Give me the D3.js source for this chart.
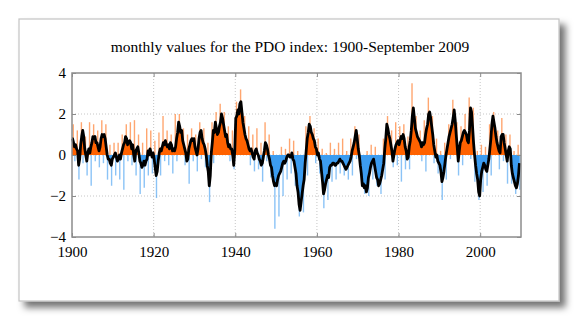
<!DOCTYPE html>
<html>
<head>
<meta charset="utf-8">
<title>PDO index</title>
<script src="https://d3js.org/d3.v7.min.js"></script>
<style>
  body { margin: 0; background: #fff; }
  text { font-family: "Liberation Serif", "DejaVu Serif", serif; fill: #000; }
</style>
</head>
<body>
<svg id="chart" width="580" height="321"></svg>
<script>
// smoothed PDO, one point per quarter, Jan 1900 - Sep 2009
var startYear = 1900;
var smooth = [
  0.8, 0.6, 0.4, 0.5,   0.3, 0.2, -0.5, -0.2,   0.5, 0.9, 1.2, 0.9,   0.3, 0.0, -0.3, 0.1,
  0.3, 0.1, 0.4, 0.6,   0.9, 0.8, 0.9, 0.6,   0.6, 0.4, 0.2, 0.4,   0.8, 1.0, 0.9, 1.0,
  0.8, 0.4, 0.0, -0.2,   -0.2, -0.4, -0.5, -0.2,   -0.1, 0.0, 0.1, -0.1,   -0.3, -0.2, 0.0, -0.2,
  0.1, 0.3, 0.5, 0.6,   0.9, 0.8, 0.5, 0.6,   0.7, 0.6, 0.3, 0.5,   0.0, -0.3, 0.2, 0.3,
  0.4, 0.1, -0.3, -0.4,   -0.6, -0.5, -0.3, -0.5,   -0.3, -0.2, 0.2, 0.0,   0.3, 0.1, -0.1, 0.1,
  -0.2, -0.6, -1.0, -0.8,   -0.3, 0.1, 0.3, 0.2,   0.4, 0.6, 0.5, 0.7,   0.5, 0.4, 0.5, 0.3,
  0.6, 0.5, 0.2, 0.3,   0.2, 0.4, 0.8, 1.1,   1.6, 1.4, 1.1, 1.2,   0.7, 0.5, 0.3, 0.1,
  -0.3, -0.2, 0.3, 0.5,   0.7, 0.8, 0.7, 0.8,   0.4, 0.2, 0.0, 0.3,   0.8, 1.1, 1.2, 0.8,
  0.6, 0.5, 0.3, 0.0,   -0.5, -0.8, -1.5, -1.0,   0.1, 0.6, 1.2, 1.1,   1.6, 1.3, 1.0, 1.1,
  1.4, 1.6, 2.0, 1.8,   1.5, 1.2, 0.9, 1.0,   0.6, 0.4, 0.5, 0.3,   0.3, 0.0, -0.5, 0.2,
  1.8, 1.9, 2.2, 2.0,   2.5, 2.6, 2.1, 1.6,   1.3, 1.0, 0.8, 0.7,   0.5, 0.3, 0.2, 0.3,
  0.1, -0.1, -0.2, 0.2,   0.3, 0.1, 0.0, -0.2,   -0.3, -0.5, -0.4, -0.1,   0.2, 0.6, 0.5, 0.3,
  0.0, -0.2, -0.5, -0.6,   -1.0, -1.3, -1.5, -1.4,   -1.5, -1.2, -1.0, -0.9,   -0.8, -0.6, -0.4, -0.3,
  -0.4, -0.3, -0.1, 0.0,   0.0, -0.1, -0.1, 0.1,   -0.2, -0.3, -0.6, -0.9,   -1.5, -1.8, -2.4, -2.7,
  -2.3, -1.9, -1.5, -1.2,   -0.4, 0.2, 0.8, 1.1,   1.5, 1.4, 1.1, 1.0,   0.8, 0.7, 0.4, 0.3,
  0.0, 0.1, -0.2, -0.3,   -0.8, -1.3, -1.9, -1.7,   -1.4, -1.2, -1.0, -1.1,   -0.6, -0.5, -0.5, -0.4,
  -0.4, -0.5, -0.5, -0.4,   -0.4, -0.3, -0.2, -0.3,   -0.3, -0.4, -0.5, -0.6,   -0.7, -0.6, -0.5, -0.4,
  -0.3, -0.1, 0.2, 0.4,   0.6, 0.9, 1.2, 0.8,   0.3, 0.0, -0.5, -0.9,   -1.5, -1.4, -1.6, -1.5,
  -1.8, -1.6, -1.1, -0.9,   -0.6, -0.4, -0.3, -0.2,   -0.5, -0.8, -1.1, -1.2,   -1.5, -1.4, -1.2, -1.0,
  -0.7, -0.4, 0.3, 0.8,   1.5, 1.3, 1.0, 0.8,   0.5, 0.2, -0.3, 0.0,   0.3, 0.5, 0.6, 0.7,
  0.5, 0.7, 0.9, 0.8,   1.0, 0.8, 0.4, 0.2,   -0.2, -0.1, 0.4, 0.7,   1.2, 1.9, 2.3, 1.8,
  1.3, 1.1, 0.9, 0.8,   0.7, 0.6, 0.4, 0.6,   0.5, 0.6, 1.0, 1.3,   1.5, 2.0, 2.1, 1.8,
  1.4, 1.0, 0.5, 0.2,   -0.1, 0.0, -0.3, -0.4,   -0.5, -0.8, -1.3, -1.1,   -0.8, -0.4, 0.0, 0.3,
  0.6, 0.9, 1.1, 1.3,   1.5, 1.8, 2.2, 1.7,   1.0, 0.4, -0.3, 0.2,   0.6, 0.7, 0.9, 1.1,
  1.2, 1.1, 1.0, 0.7,   0.6, 1.2, 2.3, 2.1,   1.4, 0.6, 0.0, -0.5,   -0.9, -1.2, -1.8, -2.0,
  -1.2, -0.8, -0.6, -0.4,   -0.5, -0.7, -0.8, -0.5,   -0.2, 0.3, 0.8, 1.5,   1.9, 1.6, 1.3, 0.9,
  0.6, 0.4, 0.2, 0.1,   0.9, 1.0, 1.0, 0.6,   0.3, 0.0, -0.3, 0.2,   0.4, 0.3, -0.5, -0.9,
  -1.1, -1.3, -1.5, -1.6,   -1.4, -1.0, -0.4
];
// highest and lowest monthly value of each year, 1900-2009
var monthMax = [
  1.5, 1.2, 1.6, 0.9, 1.6, 1.5, 1.2, 1.7, 1.5, 0.5,
  0.6, 0.6, 1.0, 1.5, 1.6, 1.7, 1.0, 0.6, 1.3, 1.2,
  0.7, 1.1, 1.9, 1.2, 1.0, 2.0, 2.0, 1.3, 1.0, 1.3,
  1.0, 1.6, 1.3, 0.6, 1.6, 2.1, 2.5, 2.1, 1.4, 1.2,
  2.6, 3.2, 1.9, 1.4, 1.0, 1.3, 0.6, 1.6, 1.0, 0.2,
  0.0, 0.4, 0.3, 0.8, 0.7, 0.2, 0.0, 1.4, 1.9, 1.3,
  0.8, 0.3, 0.1, 0.6, 0.3, 0.6, 0.8, 0.2, 0.8, 1.4,
  1.0, 0.0, 0.2, 0.5, 0.4, 0.0, 0.8, 1.9, 1.2, 1.6,
  1.4, 1.5, 0.9, 3.5, 1.9, 1.2, 1.7, 2.8, 1.9, 0.8,
  0.2, 0.6, 1.5, 2.7, 1.6, 1.4, 2.0, 2.8, 2.3, 0.2,
  0.5, 0.4, 1.5, 2.1, 1.2, 1.8, 1.0, 1.0, 0.2, 0.5
];
var monthMin = [
  -0.3, -1.2, -0.4, -1.0, -1.5, -0.3, -0.6, -0.4, -1.2, -1.5,
  -1.0, -1.2, -1.7, -0.3, -0.5, -1.0, -1.9, -1.6, -1.0, -0.9,
  -2.1, -1.0, -0.3, -0.5, -0.9, -0.3, 0.0, -0.5, -1.4, -0.3,
  -0.8, -0.2, -0.6, -2.3, -0.4, 0.0, 0.2, 0.0, -0.3, -0.7,
  0.0, 0.5, 0.0, -0.5, -0.8, -0.7, -1.3, -0.3, -1.1, -3.6,
  -3.0, -2.0, -1.2, -0.9, -1.5, -3.0, -2.8, -1.0, 0.2, -0.4,
  -0.9, -2.6, -2.2, -1.3, -1.2, -0.9, -1.0, -1.2, -1.0, -0.2,
  -1.0, -1.9, -2.0, -1.2, -1.5, -1.9, -1.2, 0.0, -0.6, -0.5,
  -1.3, -0.7, -0.7, 0.0, 0.2, -0.3, -0.8, 0.5, -0.4, -0.9,
  -2.2, -1.2, -0.2, 0.3, -1.0, -0.5, 0.2, -0.2, -1.3, -2.2,
  -1.8, -1.5, -1.0, 0.3, -0.7, -0.3, -1.4, -1.4, -1.9, -1.7
];
var yTicks = [-4, -2, 0, 2, 4];
var xTicks = [1900, 1920, 1940, 1960, 1980, 2000];
var title = "monthly values for the PDO index: 1900-September 2009";

var svg = d3.select("#chart");
var plot = {left: 72, right: 521, top: 73, bottom: 237};

// frame with drop shadow
var defs = svg.append("defs");
var f = defs.append("filter").attr("id", "shadow")
  .attr("x", "-5%").attr("y", "-5%").attr("width", "115%").attr("height", "120%");
f.append("feDropShadow").attr("dx", 6).attr("dy", 6)
  .attr("stdDeviation", 3.5).attr("flood-color", "#000").attr("flood-opacity", 0.55);

svg.append("rect")
  .attr("x", 19).attr("y", 19).attr("width", 540).attr("height", 282)
  .attr("fill", "#fff").attr("stroke", "#c4c4c4").attr("stroke-width", 1.2)
  .attr("filter", "url(#shadow)");

var x = d3.scaleLinear().domain([1900, 2010]).range([plot.left, plot.right]);
var y = d3.scaleLinear().domain([-4, 4]).range([plot.bottom, plot.top]);

// grid
var grid = svg.append("g");
grid.selectAll(".gx").data(xTicks.slice(1)).enter().append("line")
  .attr("x1", d => x(d)).attr("x2", d => x(d))
  .attr("y1", plot.top).attr("y2", plot.bottom)
  .attr("stroke", "#b8b8b8").attr("stroke-width", 0.8).attr("stroke-dasharray", "1,2");
grid.selectAll(".gy").data(yTicks.slice(1, -1)).enter().append("line")
  .attr("x1", plot.left).attr("x2", plot.right)
  .attr("y1", d => y(d)).attr("y2", d => y(d))
  .attr("stroke", "#b8b8b8").attr("stroke-width", 0.8).attr("stroke-dasharray", "1,2");

var pts = smooth.map((v, i) => ({t: startYear + i / 4 + 0.125, v: v}));
pts.unshift({t: startYear, v: smooth[0]});

// clip above / below zero
defs.append("clipPath").attr("id", "above").append("rect")
  .attr("x", plot.left).attr("y", plot.top)
  .attr("width", plot.right - plot.left).attr("height", y(0) - plot.top);
defs.append("clipPath").attr("id", "below").append("rect")
  .attr("x", plot.left).attr("y", y(0))
  .attr("width", plot.right - plot.left).attr("height", plot.bottom - y(0));

// monthly spikes
var spikes = svg.append("g");
monthMax.forEach(function(v, i) {
  if (v > 0) spikes.append("line")
    .attr("x1", x(startYear + i + 0.3)).attr("x2", x(startYear + i + 0.3))
    .attr("y1", y(0)).attr("y2", y(v))
    .attr("stroke", "#ff6a10").attr("stroke-opacity", 0.6).attr("stroke-width", 1.4);
});
monthMin.forEach(function(v, i) {
  if (v < 0) spikes.append("line")
    .attr("x1", x(startYear + i + 0.7)).attr("x2", x(startYear + i + 0.7))
    .attr("y1", y(0)).attr("y2", y(v))
    .attr("stroke", "#3d9bf0").attr("stroke-opacity", 0.6).attr("stroke-width", 1.4);
});

var area = d3.area().x(d => x(d.t)).y0(y(0)).y1(d => y(d.v));
svg.append("path").datum(pts).attr("d", area)
  .attr("fill", "#ff6200").attr("clip-path", "url(#above)");
svg.append("path").datum(pts).attr("d", area)
  .attr("fill", "#3c9cf0").attr("clip-path", "url(#below)");

var line = d3.line().x(d => x(d.t)).y(d => y(d.v));
svg.append("path").datum(pts).attr("d", line)
  .attr("fill", "none").attr("stroke", "#000").attr("stroke-width", 2.8)
  .attr("stroke-linejoin", "round");

// box + ticks
svg.append("rect")
  .attr("x", plot.left).attr("y", plot.top)
  .attr("width", plot.right - plot.left).attr("height", plot.bottom - plot.top)
  .attr("fill", "none").attr("stroke", "#8c8c8c").attr("stroke-width", 1.5);

var xAxis = d3.axisBottom(x).tickValues(xTicks).tickSize(-4).tickPadding(9).tickFormat(d3.format("d"));
var gx = svg.append("g").attr("transform", "translate(0," + plot.bottom + ")").call(xAxis);
gx.select(".domain").remove();
gx.selectAll("line").attr("stroke", "#8c8c8c");
gx.selectAll("text").attr("font-size", 15).attr("font-family", "Liberation Serif");

var gxTop = svg.append("g").attr("transform", "translate(0," + plot.top + ")")
  .call(d3.axisTop(x).tickValues(xTicks).tickSize(-4).tickFormat(""));
gxTop.select(".domain").remove();
gxTop.selectAll("line").attr("stroke", "#8c8c8c");

var yAxis = d3.axisLeft(y).tickValues(yTicks).tickSize(-4).tickPadding(6);
var gy = svg.append("g").attr("transform", "translate(" + plot.left + ",0)").call(yAxis);
gy.select(".domain").remove();
gy.selectAll("line").attr("stroke", "#8c8c8c");
gy.selectAll("text").attr("font-size", 15).attr("font-family", "Liberation Serif");

var gyR = svg.append("g").attr("transform", "translate(" + plot.right + ",0)")
  .call(d3.axisRight(y).tickValues(yTicks).tickSize(-4).tickFormat(""));
gyR.select(".domain").remove();
gyR.selectAll("line").attr("stroke", "#8c8c8c");

svg.append("text").attr("x", 290).attr("y", 52).attr("text-anchor", "middle")
  .attr("font-size", 15.5).text(title);
</script>
</body>
</html>
